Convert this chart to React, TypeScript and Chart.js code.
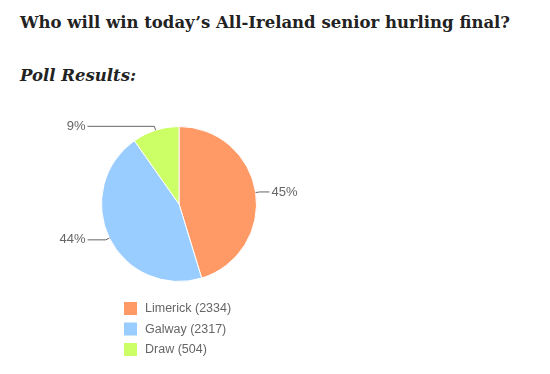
import React, { useEffect, useRef } from "react";
import { Chart, registerables } from "chart.js";

Chart.register(...registerables);

const categories = ["Limerick", "Galway", "Draw"];
const votes = [2334, 2317, 504];
const percentLabels = ["45%", "44%", "9%"];
const sliceColors = ["#FF9966", "#99CCFF", "#CCFF66"];
const titleText = "Who will win today\u2019s All-Ireland senior hurling final?";
const subtitleText = "Poll Results:";

const calloutPlugin = {
  id: "callouts",
  afterDatasetsDraw(chart: any) {
    const ctx = chart.ctx;
    const meta = chart.getDatasetMeta(0);
    ctx.save();
    ctx.font = "13px 'Liberation Sans', Arial, sans-serif";
    ctx.textBaseline = "middle";
    meta.data.forEach((arc: any, i: number) => {
      const { x, y, startAngle, endAngle, outerRadius } = arc.getProps(
        ["x", "y", "startAngle", "endAngle", "outerRadius"],
        true
      );
      const mid = (startAngle + endAngle) / 2;
      const px = x + Math.cos(mid) * outerRadius;
      const py = y + Math.sin(mid) * outerRadius;
      const ex = x + Math.cos(mid) * (outerRadius + 4);
      const ey = y + Math.sin(mid) * (outerRadius + 4);
      const right = Math.cos(mid) >= 0;
      const lx = right ? x + outerRadius + 13 : x - outerRadius - 14;
      ctx.strokeStyle = "#666666";
      ctx.lineWidth = 1;
      ctx.beginPath();
      ctx.moveTo(px, py);
      ctx.lineTo(ex, ey);
      ctx.lineTo(lx, ey);
      ctx.stroke();
      ctx.fillStyle = "#666666";
      ctx.textAlign = right ? "left" : "right";
      ctx.fillText(percentLabels[i], right ? lx + 2 : lx - 2, ey);
    });
    ctx.restore();
  },
};

const legendPlugin = {
  id: "customLegend",
  afterDraw(chart: any) {
    const ctx = chart.ctx;
    const ds = chart.data.datasets[0];
    ctx.save();
    ctx.font = "12.5px 'Liberation Sans', Arial, sans-serif";
    ctx.textBaseline = "middle";
    ctx.textAlign = "left";
    chart.data.labels.forEach((label: string, i: number) => {
      const top = 302 + i * 20.5;
      ctx.fillStyle = ds.backgroundColor[i];
      ctx.fillRect(124, top, 13, 13);
      ctx.fillStyle = "#666666";
      ctx.fillText(`${label} (${ds.data[i]})`, 145, top + 7);
    });
    ctx.restore();
  },
};

export default function App() {
  const canvasRef = useRef<HTMLCanvasElement>(null);
  useEffect(() => {
    if (!canvasRef.current) return;
    const chart = new Chart(canvasRef.current, {
      type: "pie",
      data: {
        labels: categories,
        datasets: [
          {
            data: votes,
            backgroundColor: sliceColors,
            borderColor: "#ffffff",
            borderWidth: 1,
            hoverOffset: 0,
          },
        ],
      },
      options: {
        animation: false,
        responsive: false,
        layout: { padding: { left: 101, right: 293, top: 126, bottom: 92 } },
        plugins: {
          legend: { display: false },
          tooltip: { enabled: false },
          title: { display: false },
        },
      },
      plugins: [calloutPlugin, legendPlugin],
    });
    return () => chart.destroy();
  }, []);

  const serif = "Georgia, 'DejaVu Serif', serif";
  return (
    <div style={{ position: "fixed", left: 0, top: 0, width: 550, height: 374, background: "#fff" }}>
      <div
        style={{
          position: "absolute",
          left: 20,
          top: 13,
          fontFamily: serif,
          fontWeight: "bold",
          fontSize: 16.5,
          lineHeight: "20px",
          color: "#222222",
          whiteSpace: "nowrap",
        }}
      >
        {titleText}
      </div>
      <div
        style={{
          position: "absolute",
          left: 20,
          top: 66,
          fontFamily: serif,
          fontWeight: "bold",
          fontStyle: "italic",
          fontSize: 16.5,
          lineHeight: "20px",
          color: "#222222",
          whiteSpace: "nowrap",
        }}
      >
        {subtitleText}
      </div>
      <canvas
        ref={canvasRef}
        width={550}
        height={374}
        style={{ position: "absolute", left: 0, top: 0, width: 550, height: 374 }}
      />
    </div>
  );
}
